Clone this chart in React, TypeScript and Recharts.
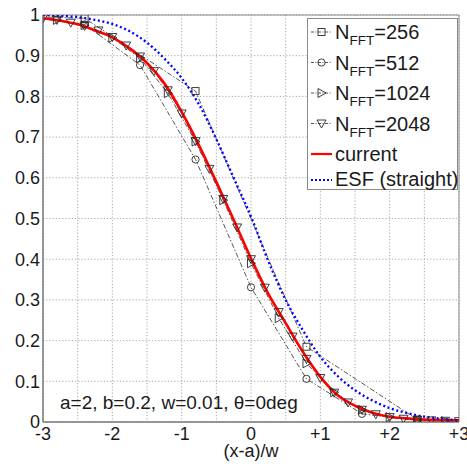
import React from 'react';
import {
  LineChart,
  Line,
  XAxis,
  YAxis,
  CartesianGrid,
  Legend,
  ReferenceArea,
} from 'recharts';

// ---------- data ----------
const xs256 = [-4.0, -2.4, -0.8, 0.8, 2.4, 4.0];
const ys256 = [1.0, 0.992, 0.813, 0.185, 0.006, 0.0];

const xs512 = [-3.2, -2.4, -1.6, -0.8, 0.0, 0.8, 1.6, 2.4, 3.2];
const ys512 = [0.995, 0.977, 0.877, 0.645, 0.331, 0.106, 0.02, 0.004, 0.001];

const xs1024 = [-3.2, -2.8, -2.4, -2.0, -1.6, -1.2, -0.8, -0.4, 0.0, 0.4, 0.8, 1.2, 1.6, 2.0, 2.4, 2.8, 3.2];
const ys1024 = [0.994, 0.988, 0.975, 0.944, 0.894, 0.808, 0.689, 0.545, 0.39, 0.255, 0.144, 0.073, 0.03, 0.012, 0.004, 0.002, 0.001];

const xs2048 = [
  -3.0, -2.8, -2.6, -2.4, -2.2, -2.0, -1.8, -1.6, -1.4, -1.2, -1.0, -0.8, -0.6, -0.4, -0.2, 0.0,
  0.2, 0.4, 0.6, 0.8, 1.0, 1.2, 1.4, 1.6, 1.8, 2.0, 2.2, 2.4, 2.6, 2.8, 3.0,
];
const ys2048 = [
  0.992, 0.988, 0.981, 0.973, 0.962, 0.946, 0.925, 0.898, 0.862, 0.815, 0.758, 0.69, 0.622, 0.548, 0.478, 0.4,
  0.33, 0.27, 0.21, 0.155, 0.108, 0.072, 0.048, 0.03, 0.019, 0.012, 0.008, 0.005, 0.004, 0.003, 0.002,
];

const xsCurve = [
  -3.0, -2.75, -2.5, -2.25, -2.0, -1.75, -1.5, -1.25, -1.0, -0.75, -0.5, -0.25, 0.0,
  0.25, 0.5, 0.75, 1.0, 1.25, 1.5, 1.75, 2.0, 2.25, 2.5, 2.75, 3.0,
];
const ysCurrent = [
  0.992, 0.986, 0.977, 0.962, 0.945, 0.918, 0.882, 0.832, 0.762, 0.68, 0.59, 0.497, 0.402,
  0.315, 0.243, 0.172, 0.111, 0.066, 0.04, 0.023, 0.013, 0.009, 0.006, 0.005, 0.004,
];
const ysEsf = [
  1.0, 0.998, 0.995, 0.988, 0.978, 0.96, 0.932, 0.893, 0.845, 0.78, 0.695, 0.6, 0.505,
  0.395, 0.3, 0.225, 0.16, 0.113, 0.078, 0.053, 0.034, 0.022, 0.013, 0.008, 0.004,
];

const xTicks = [-3, -2.5, -2, -1.5, -1, -0.5, 0, 0.5, 1, 1.5, 2, 2.5, 3];
const yTicks = [0, 0.1, 0.2, 0.3, 0.4, 0.5, 0.6, 0.7, 0.8, 0.9, 1];

const nfftLabels = ['256', '512', '1024', '2048'];
const curveLabels = ['current', 'ESF (straight)'];
const annotation = 'a=2, b=0.2, w=0.01, \u03b8=0deg';
const xLabel = '(x-a)/w';

const zip = (xs: number[], ys: number[]) => xs.map((x, i) => ({ x, y: ys[i] }));

const d256 = zip(xs256, ys256);
const d512 = zip(xs512, ys512);
const d1024 = zip(xs1024, ys1024);
const d2048 = zip(xs2048, ys2048);
const dCurrent = zip(xsCurve, ysCurrent);
const dEsf = zip(xsCurve, ysEsf);

// ---------- styles ----------
const FONT = '"Liberation Sans", Arial, Helvetica, sans-serif';
const TEXT = '#1a1a1a';
const MK = '#2a2a2a';
const DASHDOT = '5 2 1.5 2';

type Shape = 'square' | 'circle' | 'tright' | 'tdown';

const markerEl = (shape: Shape, cx: number, cy: number, key?: any) => {
  const common = { fill: 'none', stroke: MK, strokeWidth: 0.9 };
  if (shape === 'square') return <rect key={key} x={cx - 3.5} y={cy - 3.5} width={7} height={7} {...common} />;
  if (shape === 'circle') return <circle key={key} cx={cx} cy={cy} r={3.6} {...common} />;
  if (shape === 'tright')
    return <polygon key={key} points={`${cx + 4.5},${cy} ${cx - 3.5},${cy - 4.5} ${cx - 3.5},${cy + 4.5}`} {...common} />;
  return <polygon key={key} points={`${cx - 4.5},${cy - 3.5} ${cx + 4.5},${cy - 3.5} ${cx},${cy + 4.5}`} {...common} />;
};

const makeDot = (shape: Shape) => (props: any) => {
  const { cx, cy, index } = props;
  if (cx == null || cy == null || isNaN(cx) || isNaN(cy)) return <g key={`e-${shape}-${index}`} />;
  return markerEl(shape, cx, cy, `m-${shape}-${index}`);
};

const shapes: Shape[] = ['square', 'circle', 'tright', 'tdown'];

const LegendBox = () => {
  const rowY = [14, 44.5, 75, 105.5];
  return (
    <svg width={151} height={173} style={{ display: 'block', fontFamily: FONT }}>
      <rect x={0.5} y={0.5} width={150} height={171} fill="#ffffff" stroke="#8a8a8a" strokeWidth={1} />
      {nfftLabels.map((lab, i) => (
        <g key={lab}>
          <line x1={4} x2={25} y1={rowY[i]} y2={rowY[i]} stroke={MK} strokeWidth={0.8} strokeDasharray="3 1.5 1 1.5" />
          {markerEl(shapes[i], 14.5, rowY[i])}
          <text x={28} y={rowY[i] + 7} fontSize={20} fill={TEXT}>
            N
            <tspan fontSize={13.5} dy={6}>FFT</tspan>
            <tspan fontSize={20} dy={-6}>={lab}</tspan>
          </text>
        </g>
      ))}
      <line x1={4} x2={25} y1={136} y2={136} stroke="#ff0000" strokeWidth={2.2} />
      <text x={28} y={142.5} fontSize={20} fill={TEXT}>{curveLabels[0]}</text>
      <line x1={4} x2={25} y1={162} y2={162} stroke="#0000ff" strokeWidth={2} strokeDasharray="2 2" />
      <text x={28} y={168} fontSize={20} fill={TEXT}>{curveLabels[1]}</text>
    </svg>
  );
};

const fmtX = (v: number) => {
  if (!Number.isInteger(v)) return '';
  if (v > 0) return `+${v}`;
  return String(v);
};
const fmtY = (v: number) => String(Math.round(v * 10) / 10);

export default function App() {
  return (
    <div style={{ position: 'absolute', left: 0, top: 0, width: 467, height: 466, background: '#fff', fontFamily: FONT }}>
      <LineChart
        width={467}
        height={466}
        margin={{ top: 15, right: 8, bottom: 0, left: 0 }}
        style={{ fontFamily: FONT }}
      >
        <CartesianGrid stroke="#a8a8a8" strokeDasharray="1.2 2" strokeWidth={1} />
        <XAxis
          type="number"
          dataKey="x"
          domain={[-3, 3]}
          allowDataOverflow
          ticks={xTicks}
          interval={0}
          tickFormatter={fmtX}
          tickLine={false}
          tickSize={0}
          tickMargin={5}
          height={44}
          axisLine={{ stroke: '#6e6e6e' }}
          tick={{ fontSize: 18, fill: TEXT, fontFamily: FONT }}
          label={{ value: xLabel, position: 'insideBottom', offset: 9, fontSize: 18, fill: TEXT, fontFamily: FONT }}
        />
        <YAxis
          type="number"
          dataKey="y"
          domain={[0, 1]}
          allowDataOverflow
          ticks={yTicks}
          interval={0}
          tickFormatter={fmtY}
          tickLine={false}
          tickSize={0}
          tickMargin={3}
          width={43}
          axisLine={{ stroke: '#6e6e6e' }}
          tick={{ fontSize: 18, fill: TEXT, fontFamily: FONT }}
        />
        <ReferenceArea x1={-3} x2={3} y1={0} y2={1} fill="none" stroke="#8a8a8a" strokeWidth={1} ifOverflow="visible" />
        <Line data={d256} dataKey="y" type="linear" stroke={MK} strokeWidth={0.8} strokeDasharray={DASHDOT} dot={makeDot('square')} activeDot={false} isAnimationActive={false} legendType="none" />
        <Line data={d512} dataKey="y" type="linear" stroke={MK} strokeWidth={0.8} strokeDasharray={DASHDOT} dot={makeDot('circle')} activeDot={false} isAnimationActive={false} legendType="none" />
        <Line data={d1024} dataKey="y" type="linear" stroke={MK} strokeWidth={0.8} strokeDasharray={DASHDOT} dot={makeDot('tright')} activeDot={false} isAnimationActive={false} legendType="none" />
        <Line data={d2048} dataKey="y" type="linear" stroke={MK} strokeWidth={0.8} strokeDasharray={DASHDOT} dot={makeDot('tdown')} activeDot={false} isAnimationActive={false} legendType="none" />
        <Line data={dCurrent} dataKey="y" type="monotone" stroke="#ff0000" strokeWidth={2.6} dot={false} activeDot={false} isAnimationActive={false} legendType="none" />
        <Line data={dEsf} dataKey="y" type="monotone" stroke="#0000ff" strokeWidth={2.3} strokeDasharray="2 2.6" dot={false} activeDot={false} isAnimationActive={false} legendType="none" />
        <Legend
          layout="horizontal"
          verticalAlign="middle"
          align="center"
          content={() => <LegendBox />}
          wrapperStyle={{ left: 307, top: 18, width: 151, height: 173 }}
        />
      </LineChart>
      <div
        style={{
          position: 'absolute',
          left: 60,
          top: 393,
          fontSize: 19,
          lineHeight: '19px',
          whiteSpace: 'nowrap',
          color: TEXT,
          fontFamily: FONT,
        }}
      >
        {annotation}
      </div>
    </div>
  );
}
